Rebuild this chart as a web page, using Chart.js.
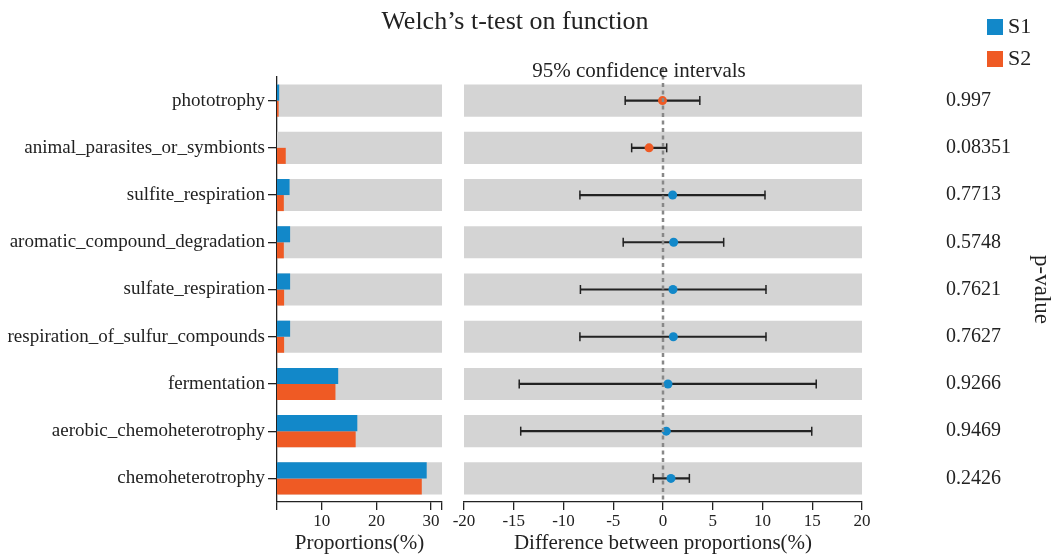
<!DOCTYPE html>
<html>
<head>
<meta charset="utf-8">
<script src="https://cdn.jsdelivr.net/npm/chart.js@4.4.1/dist/chart.umd.min.js"></script>
<style>
  html, body { margin: 0; padding: 0; background: #fff; }
  #wrap { position: relative; width: 1054px; height: 554px; }
  canvas { position: absolute; left: 0; top: 0; }
</style>
</head>
<body>
<div id="wrap">
  <canvas id="bars" width="1054" height="554"></canvas>
  <canvas id="diffs" width="1054" height="554"></canvas>
</div>
<script>
// functional groups, top to bottom
const functions = [
  'phototrophy',
  'animal_parasites_or_symbionts',
  'sulfite_respiration',
  'aromatic_compound_degradation',
  'sulfate_respiration',
  'respiration_of_sulfur_compounds',
  'fermentation',
  'aerobic_chemoheterotrophy',
  'chemoheterotrophy'
];
// mean proportions (%)
const s1Props = [2.2, 1.8, 4.1, 4.2, 4.2, 4.2, 13.0, 16.5, 29.2];
const s2Props = [2.1, 3.4, 3.05, 3.05, 3.1, 3.1, 12.5, 16.2, 28.3];
// difference between proportions with 95% CI
const diffMean = [-0.05, -1.4, 0.97, 1.07, 1.0, 1.04, 0.5, 0.33, 0.8];
const ciLow  = [-3.8, -3.15, -8.35, -4.0, -8.3, -8.35, -14.45, -14.3, -0.97];
const ciHigh = [3.7, 0.37, 10.25, 6.1, 10.35, 10.35, 15.4, 14.95, 2.65];
const pValues = [0.997, 0.08351, 0.7713, 0.5748, 0.7621, 0.7627, 0.9266, 0.9469, 0.2426];
const groupNames = ['S1', 'S2'];
const propTicks = [10, 20, 30];
const diffTicks = [-20, -15, -10, -5, 0, 5, 10, 15, 20];

const FONT = "'Liberation Serif', 'Times New Roman', serif";
const BLUE = '#1288c9';
const ORANGE = '#ef5a24';
const BAND = '#d4d4d4';
const INK = '#222';
const PROP_MIN = 1.8, PROP_MAX = 32;
const DIFF_MIN = -20, DIFF_MAX = 20;

Chart.defaults.font.family = FONT;
Chart.defaults.color = INK;

function text(ctx, str, x, y, size, align) {
  ctx.save();
  ctx.font = size + 'px ' + FONT;
  ctx.fillStyle = INK;
  ctx.textAlign = align || 'center';
  ctx.textBaseline = 'middle';
  ctx.fillText(str, x, y);
  ctx.restore();
}

const propTitle = {
  id: 'propTitle',
  afterDraw(chart) {
    const a = chart.chartArea;
    text(chart.ctx, 'Proportions(%)', (a.left + a.right) / 2, 543, 21);
  }
};

// grey row band behind each category, not part of the bar groups
const band = (lo, hi) => ({
  label: 'band', data: functions.map(() => [lo, hi]), backgroundColor: BAND,
  grouped: false, categoryPercentage: 0.68, barPercentage: 1, order: 2
});

new Chart(document.getElementById('bars'), {
  type: 'bar',
  data: {
    labels: functions,
    datasets: [
      { label: groupNames[0], data: s1Props, backgroundColor: BLUE,
        categoryPercentage: 0.68, barPercentage: 1, order: 1 },
      { label: groupNames[1], data: s2Props, backgroundColor: ORANGE,
        categoryPercentage: 0.68, barPercentage: 1, order: 1 },
      band(PROP_MIN, PROP_MAX)
    ]
  },
  options: {
    indexAxis: 'y',
    responsive: false,
    animation: false,
    layout: { padding: { left: 0, right: 1054 - 442, top: 77, bottom: 0 } },
    plugins: { legend: { display: false }, tooltip: { enabled: false } },
    scales: {
      x: {
        type: 'linear', min: PROP_MIN, max: PROP_MAX,
        afterBuildTicks: s => { s.ticks = [PROP_MIN, ...propTicks, PROP_MAX].map(v => ({ value: v })); },
        afterFit: s => { s.height = 52; },
        ticks: { callback: v => propTicks.includes(v) ? v : '', font: { size: 17 }, color: INK,
                 padding: 1, maxRotation: 0, autoSkip: false },
        grid: { drawOnChartArea: false, tickLength: 8, color: INK, lineWidth: 1.3 },
        border: { color: INK, width: 1.3 }
      },
      y: {
        type: 'category', offset: true,
        afterFit: s => { s.width = 277; },
        ticks: { font: { size: 19 }, color: INK, padding: 3, autoSkip: false },
        grid: { offset: false, drawOnChartArea: false, tickLength: 9, color: INK, lineWidth: 1.3 },
        border: { color: INK, width: 1.3 }
      }
    }
  },
  plugins: [propTitle]
});

const diffDecor = {
  id: 'diffDecor',
  afterDatasetsDraw(chart) {
    const ctx = chart.ctx;
    const xs = chart.scales.x, ys = chart.scales.y;
    ctx.save();
    ctx.strokeStyle = INK;
    ctx.lineWidth = 1.5;
    functions.forEach((f, i) => {
      const y = ys.getPixelForValue(i);
      [ciLow[i], ciHigh[i]].forEach(v => {
        const x = xs.getPixelForValue(v);
        ctx.beginPath();
        ctx.moveTo(x, y - 4.5);
        ctx.lineTo(x, y + 4.5);
        ctx.stroke();
      });
    });
    // zero line
    const x0 = xs.getPixelForValue(0);
    ctx.strokeStyle = '#888';
    ctx.lineWidth = 2.5;
    ctx.setLineDash([4, 3.5]);
    ctx.beginPath();
    ctx.moveTo(x0, 68);
    ctx.lineTo(x0, chart.chartArea.bottom);
    ctx.stroke();
    ctx.restore();
  },
  afterDraw(chart) {
    const ctx = chart.ctx;
    const a = chart.chartArea;
    const ys = chart.scales.y;
    text(ctx, 'Welch\u2019s t-test on function', 515, 22, 26);
    text(ctx, '95% confidence intervals', 639, 71, 21);
    text(ctx, 'Difference between proportions(%)', (a.left + a.right) / 2, 543, 21);
    pValues.forEach((p, i) => text(ctx, String(p), 946, ys.getPixelForValue(i), 20, 'left'));

    // legend
    [BLUE, ORANGE].forEach((c, i) => {
      const y = 19 + i * 32;
      ctx.fillStyle = c;
      ctx.fillRect(987, y, 16, 16);
      text(ctx, groupNames[i], 1008, y + 8, 22, 'left');
    });

    ctx.save();
    ctx.translate(1041, (a.top + a.bottom) / 2);
    ctx.rotate(Math.PI / 2);
    text(ctx, 'p-value', 0, 0, 23);
    ctx.restore();
  }
};

new Chart(document.getElementById('diffs'), {
  type: 'bar',
  data: {
    labels: functions,
    datasets: [
      { type: 'line', label: 'difference', data: diffMean, showLine: false,
        pointRadius: 4.5, pointBorderWidth: 0,
        pointBackgroundColor: diffMean.map(d => d >= 0 ? BLUE : ORANGE), order: 0 },
      { label: 'ci', data: functions.map((f, i) => [ciLow[i], ciHigh[i]]), backgroundColor: INK,
        barThickness: 1.5, order: 1 },
      band(DIFF_MIN, DIFF_MAX)
    ]
  },
  options: {
    indexAxis: 'y',
    responsive: false,
    animation: false,
    layout: { padding: { left: 464, right: 1054 - 862, top: 77, bottom: 0 } },
    plugins: { legend: { display: false }, tooltip: { enabled: false } },
    scales: {
      x: {
        type: 'linear', min: DIFF_MIN, max: DIFF_MAX,
        afterBuildTicks: s => { s.ticks = diffTicks.map(v => ({ value: v })); },
        afterFit: s => { s.height = 52; },
        ticks: { font: { size: 17 }, color: INK, padding: 1, maxRotation: 0, autoSkip: false },
        grid: { drawOnChartArea: false, tickLength: 8, color: INK, lineWidth: 1.3 },
        border: { color: INK, width: 1.3 }
      },
      y: { type: 'category', offset: true, display: false }
    }
  },
  plugins: [diffDecor]
});
</script>
</body>
</html>
